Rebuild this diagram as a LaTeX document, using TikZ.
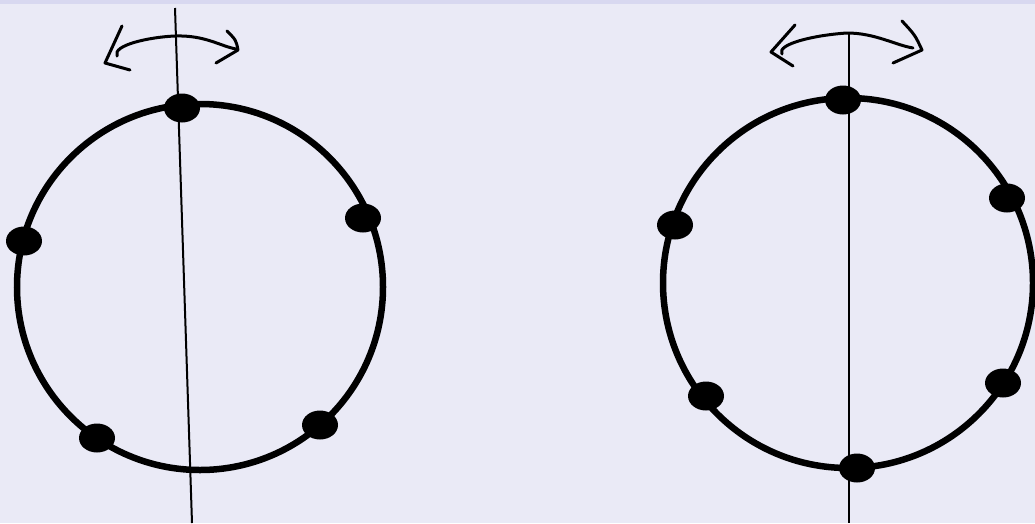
\documentclass[tikz,border=0pt]{standalone}
\usetikzlibrary{shapes.geometric}
\definecolor{paper}{RGB}{234,234,246}
\definecolor{strip}{RGB}{216,216,240}
\tikzset{
  ring/.style={line width=6.5pt},
  axisline/.style={line width=2pt},
  twist/.style={line width=3pt, line cap=round, line join=round},
  dot/.style={ellipse, fill=black, inner sep=0pt, minimum width=36pt, minimum height=29pt}
}
\begin{document}
\begin{tikzpicture}[x=1pt,y=-1pt]
    \fill[paper] (0,0) rectangle (1035,523);
    \fill[strip] (0,0) rectangle (1035,4);
    \useasboundingbox (0,0) rectangle (1035,523);

    % five points on the left ring
    \begin{scope}
      \draw[ring] (200,287) circle (183);
      \coordinate (ltop) at (175,8);
      \coordinate (lbot) at (192,523);
      \draw[axisline] (ltop) -- (lbot);
      \foreach \n/\x/\y in {1/182/108, 2/363/218, 3/24/241, 4/97/438, 5/320/425} {
        \node[dot] (l\n) at (\x,\y) {};
      }
      \draw[twist] (117,56) .. controls (112,45) and (150,37) .. (175,36)
        .. controls (205,35) and (220,46) .. (236,49);
      \draw[twist] (122,26) -- (105,63) -- (130,70);
      \draw[twist] (227,31) .. controls (236,40) .. (238,50) -- (216,63);
    \end{scope}

    % six points on the right ring
    \begin{scope}
      \draw[ring] (848,283) circle (185);
      \coordinate (rtop) at (849,34);
      \coordinate (rbot) at (849,523);
      \draw[axisline] (rtop) -- (rbot);
      \foreach \n/\x/\y in {1/843/100, 2/1007/198, 3/675/225, 4/706/396, 5/1003/383, 6/857/468} {
        \node[dot] (r\n) at (\x,\y) {};
      }
      \draw[twist] (782,54) .. controls (776,44) and (815,35) .. (847,33)
        .. controls (875,33) and (895,45) .. (913,48);
      \draw[twist] (795,25) -- (771,52) -- (793,66);
      \draw[twist] (902,21) .. controls (915,35) .. (922,50) -- (893,63);
    \end{scope}
  \end{tikzpicture}
\end{document}
